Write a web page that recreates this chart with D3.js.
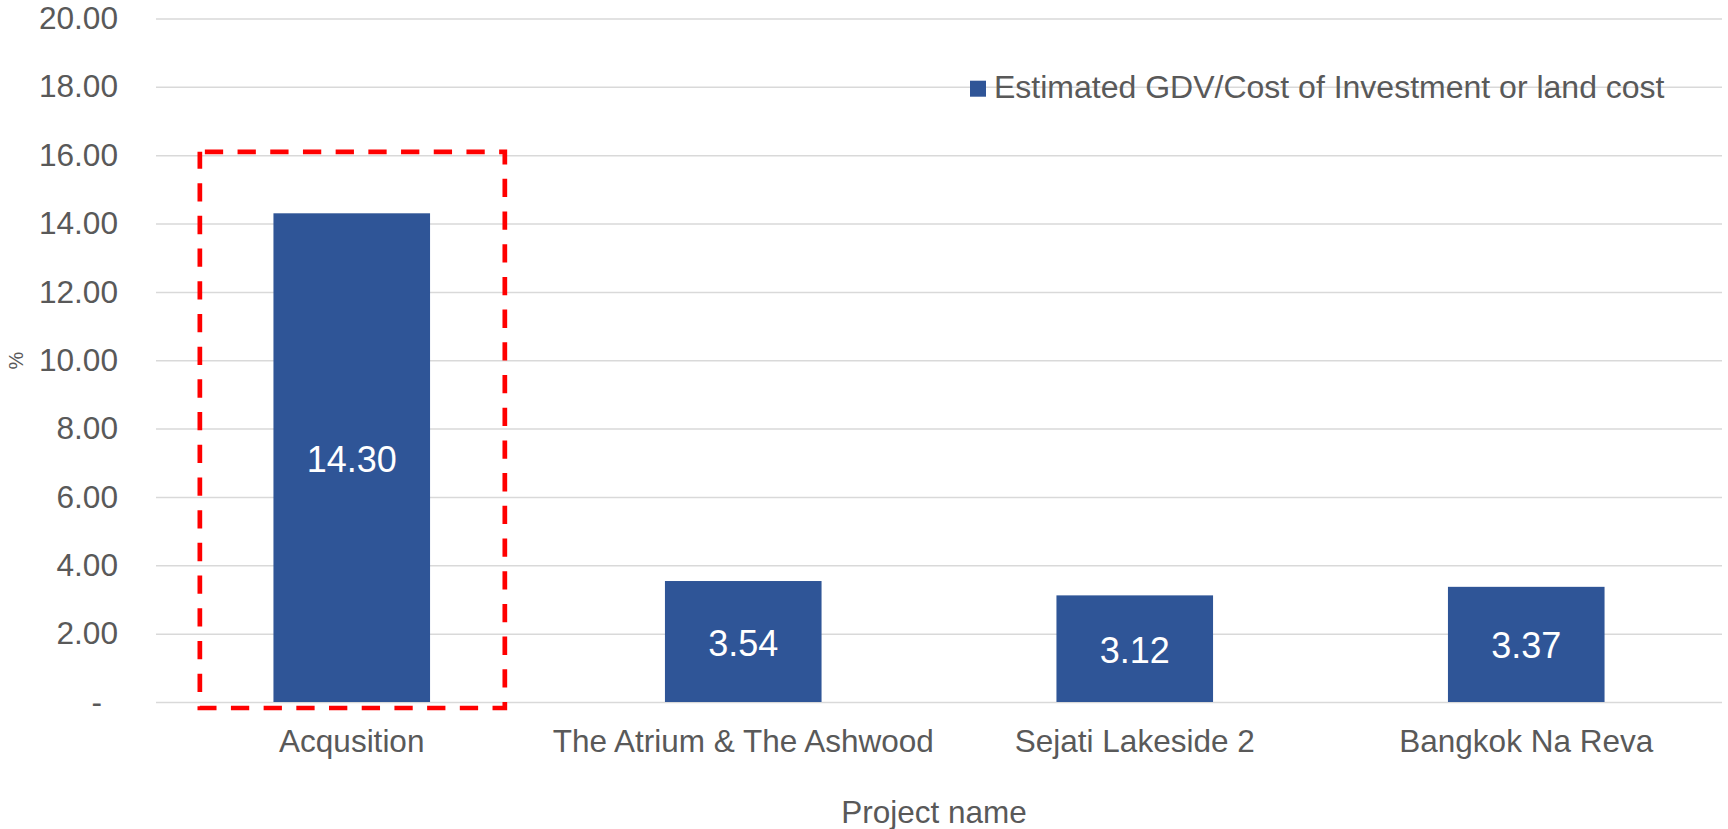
<!DOCTYPE html>
<html>
<head>
<meta charset="utf-8">
<script src="https://cdn.jsdelivr.net/npm/d3@7"></script>
<style>
  html, body { margin: 0; padding: 0; background: #ffffff; }
  svg { display: block; }
  text { font-family: "Liberation Sans", Arial, sans-serif; }
</style>
</head>
<body>
<svg id="chart" width="1728" height="829"></svg>
<script>
// ---- data ----
const categories = ["Acqusition", "The Atrium & The Ashwood", "Sejati Lakeside 2", "Bangkok Na Reva"];
const values = [14.30, 3.54, 3.12, 3.37];
const seriesName = "Estimated GDV/Cost of Investment or land cost";
const yTicks = [0, 2, 4, 6, 8, 10, 12, 14, 16, 18, 20];
const highlightCategory = "Acqusition";
const highlightTop = 16.1;
const xTitle = "Project name";
const yTitle = "%";

// ---- layout ----
const W = 1728, H = 829;
const plot = { left: 156, right: 1722, top: 18.5, bottom: 702 };
const textColor = "#595959";
const barColor = "#2F5597";
const gridColor = "#D9D9D9";

const svg = d3.select("#chart");

const x = d3.scaleBand().domain(categories).range([plot.left, plot.right]).padding(0);
const y = d3.scaleLinear().domain([0, 20]).range([plot.bottom, plot.top]);

// y axis with gridlines
const yAxis = d3.axisLeft(y)
  .tickValues(yTicks)
  .tickSize(-(plot.right - plot.left))
  .tickPadding(38)
  .tickFormat(d => d === 0 ? "-" : d3.format(".2f")(d));

const gy = svg.append("g")
  .attr("transform", `translate(${plot.left},0)`)
  .call(yAxis);
gy.select(".domain").remove();
gy.selectAll(".tick line").attr("stroke", gridColor).attr("stroke-width", 1.5);
gy.selectAll(".tick text")
  .attr("fill", textColor)
  .attr("font-size", 31.6)
  .attr("dx", d => d === 0 ? -16 : 0);

// bars
const barW = x.bandwidth() * 0.4;
svg.append("g").selectAll("rect")
  .data(values)
  .join("rect")
  .attr("x", (d, i) => x(categories[i]) + (x.bandwidth() - barW) / 2)
  .attr("y", d => y(d))
  .attr("width", barW)
  .attr("height", d => y(0) - y(d))
  .attr("fill", barColor);

// data labels
svg.append("g").selectAll("text")
  .data(values)
  .join("text")
  .attr("x", (d, i) => x(categories[i]) + x.bandwidth() / 2)
  .attr("y", d => (y(d) + y(0)) / 2 + 14)
  .attr("text-anchor", "middle")
  .attr("fill", "#ffffff")
  .attr("font-size", 36)
  .text(d => d3.format(".2f")(d));

// x axis labels
const xAxis = d3.axisBottom(x).tickSize(0).tickPadding(0);
const gx = svg.append("g")
  .attr("transform", `translate(0,${plot.bottom})`)
  .call(xAxis);
gx.select(".domain").remove();
gx.selectAll(".tick text")
  .attr("fill", textColor)
  .attr("font-size", 31.5)
  .attr("dy", null)
  .attr("y", 50);

// axis titles
svg.append("text")
  .attr("x", (plot.left + plot.right) / 2 - 5)
  .attr("y", 823)
  .attr("text-anchor", "middle")
  .attr("fill", textColor)
  .attr("font-size", 31.5)
  .text(xTitle);

svg.append("text")
  .attr("transform", `translate(23,360.5) rotate(-90)`)
  .attr("text-anchor", "middle")
  .attr("fill", textColor)
  .attr("font-size", 20)
  .text(yTitle);

// legend
const lg = svg.append("g");
lg.append("rect")
  .attr("x", 970).attr("y", 80.7).attr("width", 16).attr("height", 16)
  .attr("fill", barColor);
lg.append("text")
  .attr("x", 994).attr("y", 97.5)
  .attr("fill", textColor)
  .attr("font-size", 32)
  .text(seriesName);

// highlight dashed box around first category
const step = x.step();
const hx0 = x(highlightCategory) + step * 0.112;
const hx1 = x(highlightCategory) + step - step * 0.109;
const hy0 = y(highlightTop);
const hy1 = y(0) + 6;
svg.append("rect")
  .attr("x", hx0).attr("y", hy0)
  .attr("width", hx1 - hx0).attr("height", hy1 - hy0)
  .attr("fill", "none")
  .attr("stroke", "#FF0000")
  .attr("stroke-width", 4.7)
  .attr("stroke-dasharray", "18.3 14.4")
  .attr("stroke-dashoffset", 27.7);
</script>
</body>
</html>
